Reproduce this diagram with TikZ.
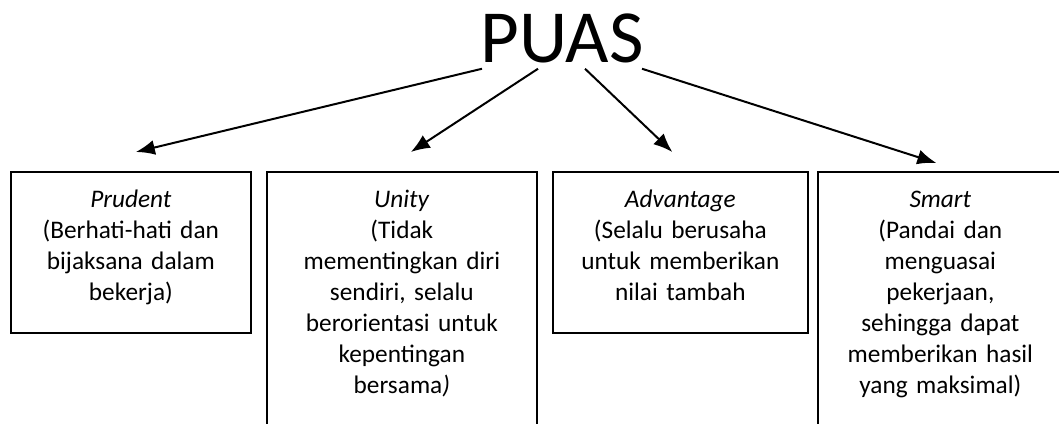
\documentclass[tikz,border=0pt]{standalone}
\usepackage{fontspec}
\setmainfont{Carlito}
\usetikzlibrary{arrows.meta,positioning,calc}
\tikzstyle{arrow} = [line width=2pt,-{Latex[length=19pt,width=15pt]}]
\tikzstyle{sifat} = [rectangle, draw, line width=1.7pt, anchor=north west, align=center, inner xsep=0pt, inner ysep=15pt, text height=21pt, font=\fontsize{25.3}{31}\selectfont]

\begin{document}
\begin{tikzpicture}[x=1pt,y=1pt]
\useasboundingbox (0,0) rectangle (1059,423);
\clip (0,0) rectangle (1059,423);
% judul
\node (puas) [anchor=base, inner sep=5pt, font=\fontsize{75}{90}\selectfont] at (562,360) {PUAS};
% empat kotak
\node (prudent) [sifat, text width=240pt, text depth=110pt] at (10,252) {\textit{Prudent}\\(Berhati-hati dan\\bijaksana dalam\\bekerja)};
\node (unity) [sifat, text width=270pt, text depth=300pt] at (266,252) {\textit{Unity}\\(Tidak\\mementingkan diri\\sendiri, selalu\\berorientasi untuk\\kepentingan\\bersama\textit{)}};
\node (advantage) [sifat, text width=255pt, text depth=110pt] at (552,252) {\textit{Advantage}\\(Selalu berusaha\\untuk memberikan\\nilai tambah};
\node (smart) [sifat, text width=245pt, text depth=300pt] at (817,252) {\textit{Smart}\\(Pandai dan\\menguasai\\pekerjaan,\\sehingga dapat\\memberikan hasil\\yang maksimal)};

\coordinate (kePrudent) at ($(prudent.north)+(5,19)$);
\coordinate (keUnity) at ($(unity.north)+(9,19)$);
\coordinate (keAdvantage) at ($(advantage.north)+(-8,19)$);
\coordinate (keSmart) at ($(smart.north)+(-4,8)$);

\draw[arrow] ($(puas.south)+(-80,0)$) -- (kePrudent);
\draw[arrow] ($(puas.south)+(-24,0)$) -- (keUnity);
\draw[arrow] ($(puas.south)+(23,0)$) -- (keAdvantage);
\draw[arrow] ($(puas.south)+(80,0)$) -- (keSmart);
\end{tikzpicture}
\end{document}
